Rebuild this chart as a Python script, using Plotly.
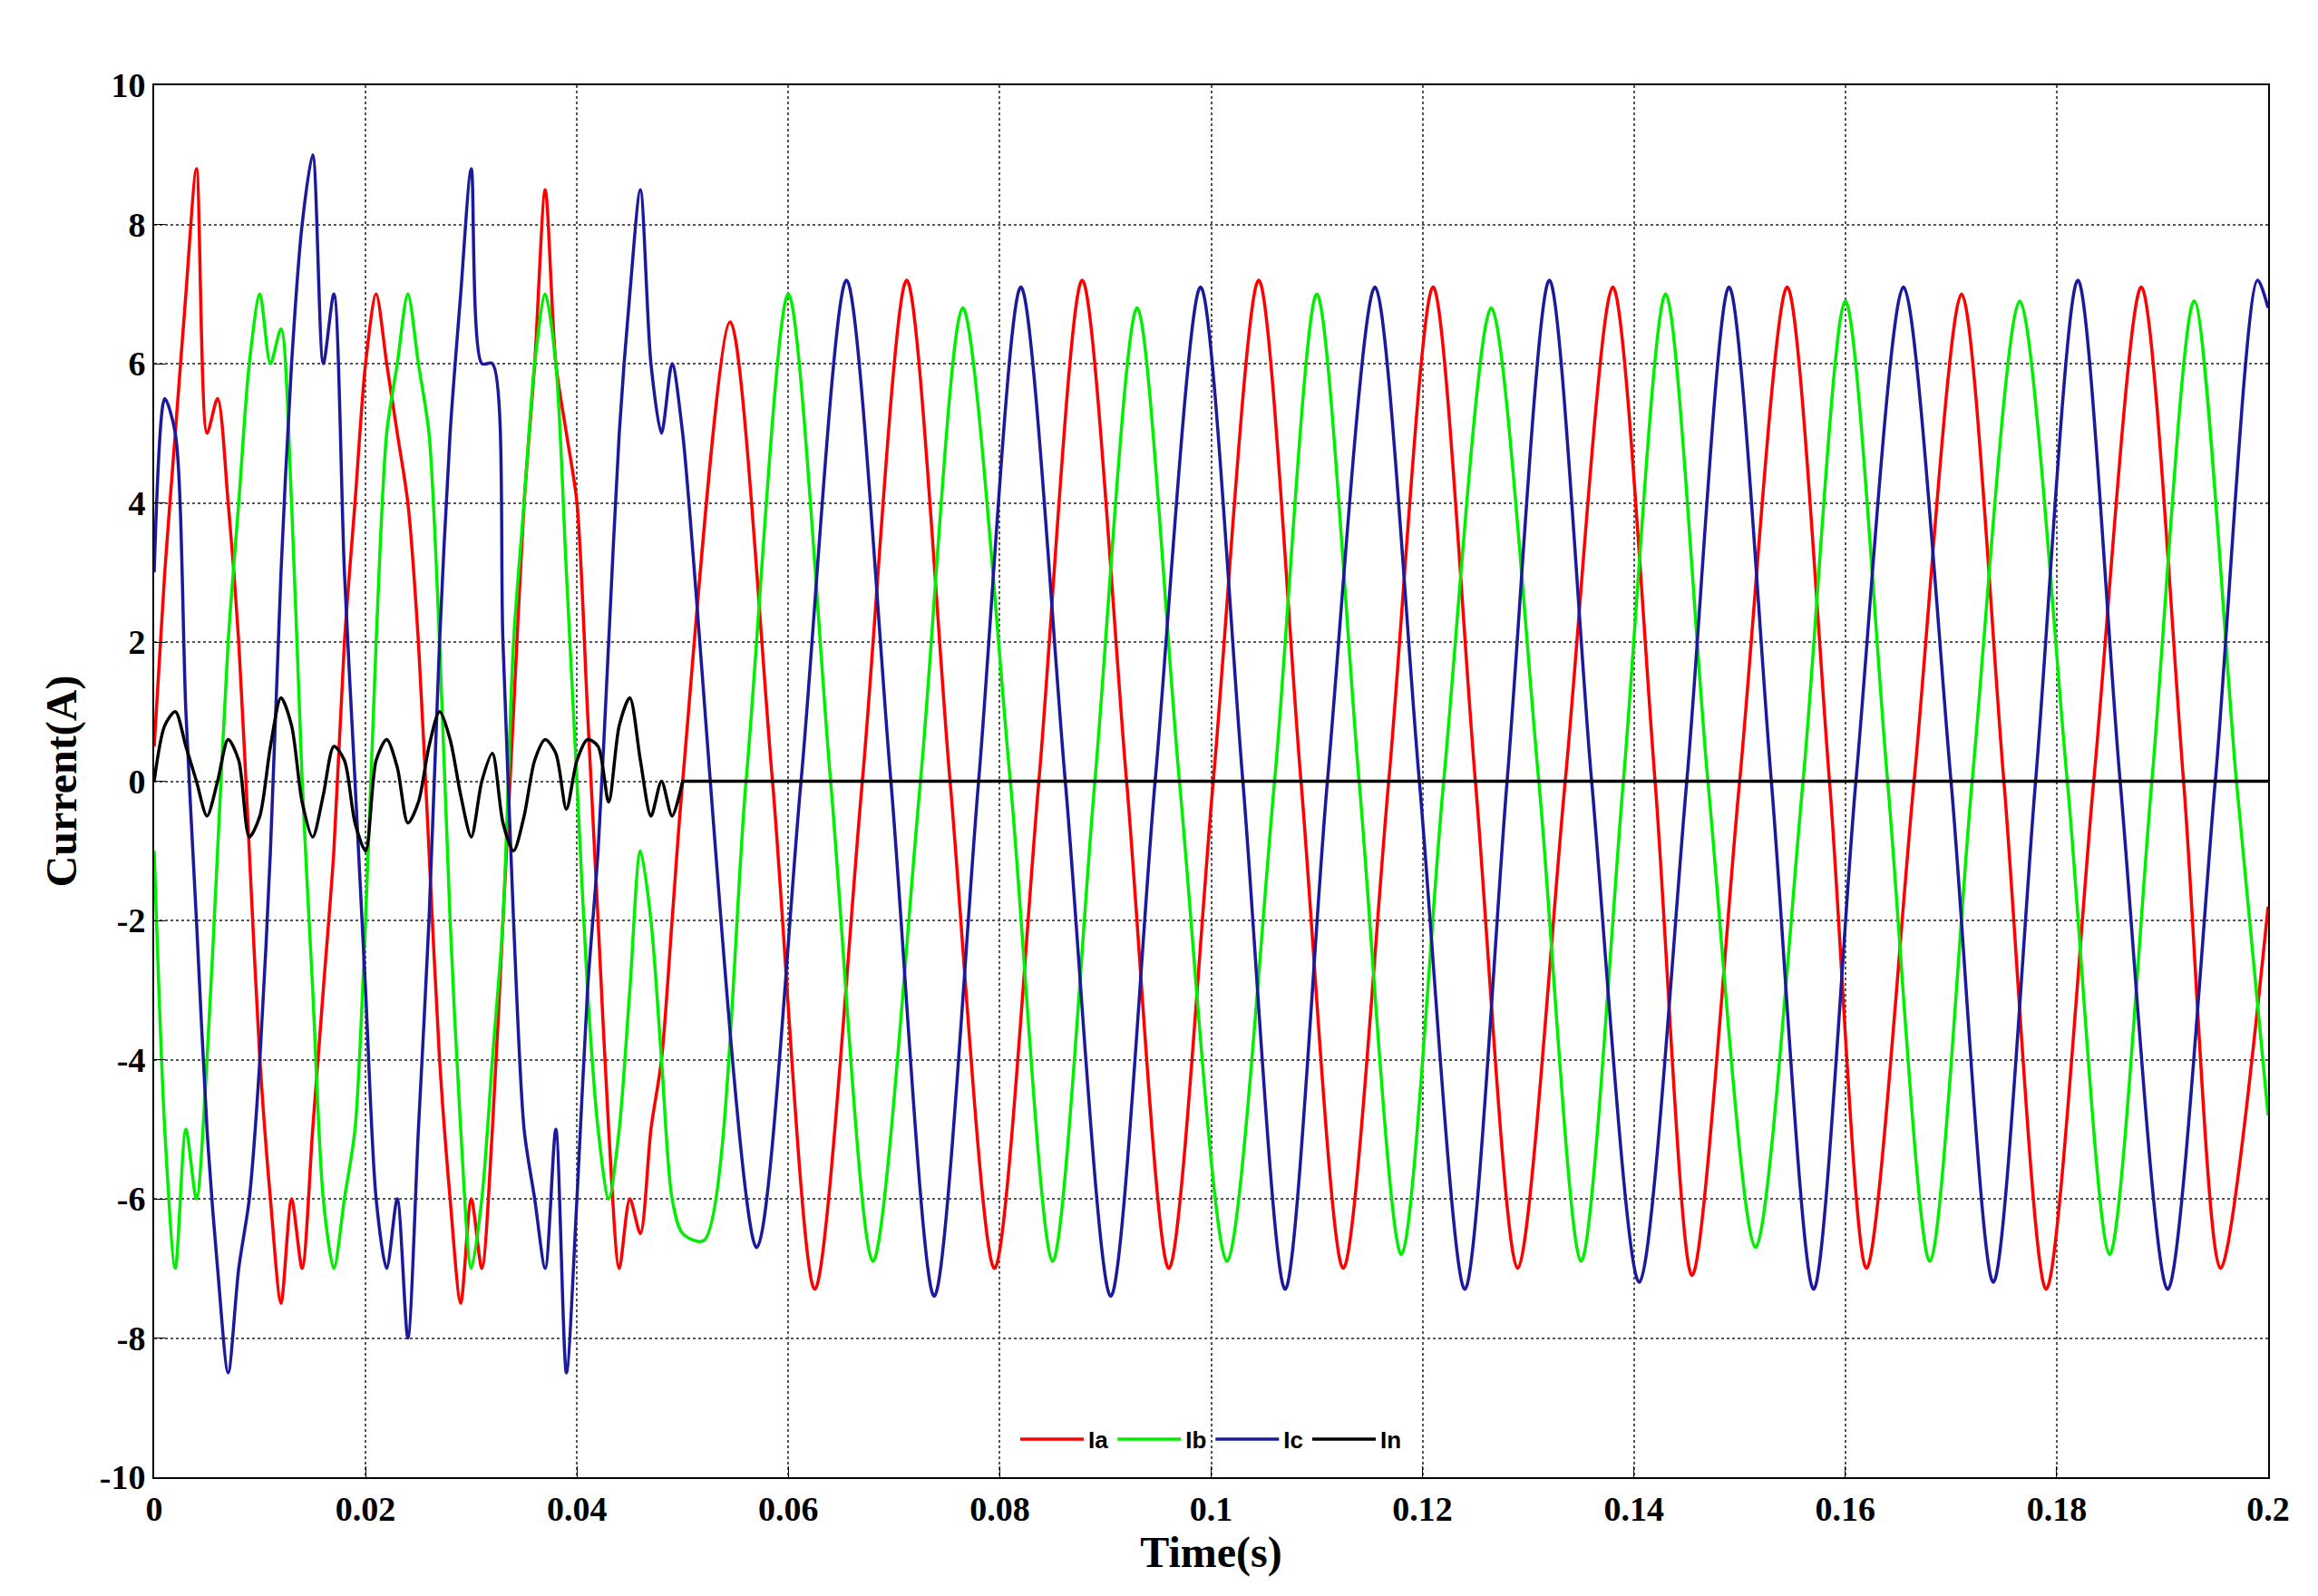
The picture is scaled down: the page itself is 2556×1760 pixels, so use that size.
import plotly.graph_objects as go

# transient part, 1 ms samples from 0 to 0.05 s
t_tr = [i / 1000 for i in range(51)]
ia_tr = [0.5, 3, 5, 7, 8.8, 5, 5.5, 4, 2, -1, -4, -6, -7.5, -6, -7, -5, -3, -1, 2, 4,
         6, 7, 6, 5, 4, 2, -1, -4, -6, -7.5, -6, -7, -5, -2, 1, 4, 6, 8.5, 6, 5,
         4, 1, -2, -5, -7, -6, -6.5, -5, -4, -2, 0]
ib_tr = [-1, -5, -7, -5, -6, -4, -1, 2, 4, 6, 7, 6, 6.5, 4, 0, -3, -6, -7, -6, -5,
         -2, 2, 5, 6, 7, 6, 5, 2, -2, -5, -7, -6, -4, -2, 2, 4, 6, 7, 6, 3,
         0, -3, -5, -6, -5, -3, -1, -2, -4, -6, -6.5]
ic_tr = [3, 5.5, 5, 1, -2, -5, -7, -8.5, -7, -6, -4, -1, 3, 6, 8, 9, 6, 7, 3, 0,
         -3, -6, -7, -6, -8, -5, -2, 2, 5, 7, 8.8, 6, 6, 2, -2, -5, -6, -7, -5, -8.5,
         -6, -3, -1, 2, 5, 7, 8.5, 6, 5, 6, 5]
in_tr = [0, 0.8, 1, 0.5, 0, -0.5, 0, 0.6, 0.3, -0.8, -0.5, 0.5, 1.2, 0.8, -0.3, -0.8, -0.2, 0.5, 0.3, -0.6,
         -1, 0.3, 0.6, 0.2, -0.6, -0.3, 0.5, 1.0, 0.6, -0.2, -0.8, 0, 0.4, -0.6, -1, -0.5, 0.3, 0.6, 0.4, -0.4,
         0.3, 0.6, 0.5, -0.3, 0.8, 1.2, 0.3, -0.5, 0, -0.5, 0]

# steady state: peaks, zero crossings and troughs
t_a = [0.0545, 0.0585, 0.0625, 0.067, 0.0712, 0.0753, 0.0795, 0.0837, 0.0878, 0.092, 0.096, 0.1002,
       0.1045, 0.1085, 0.1125, 0.1168, 0.121, 0.125, 0.129, 0.1335, 0.138, 0.142, 0.1455, 0.15,
       0.1545, 0.1585, 0.162, 0.1665, 0.171, 0.175, 0.179, 0.1835, 0.188, 0.192, 0.1955, 0.2]
ia_ss = [6.6, 0, -7.3, 0, 7.2, 0, -7.0, 0, 7.2, 0, -7.0, 0,
         7.2, 0, -7.0, 0, 7.1, 0, -7.0, 0, 7.1, 0, -7.1, 0,
         7.1, 0, -7.0, 0, 7.0, 0, -7.3, 0, 7.1, 0, -7.0, -1.8]
t_b = [0.052, 0.056, 0.06, 0.064, 0.068, 0.0725, 0.0765, 0.081, 0.085, 0.089, 0.093, 0.097,
       0.1015, 0.106, 0.11, 0.114, 0.118, 0.122, 0.1265, 0.131, 0.135, 0.139, 0.143, 0.147,
       0.1515, 0.156, 0.16, 0.164, 0.168, 0.172, 0.1765, 0.181, 0.185, 0.189, 0.193, 0.197, 0.2]
ib_ss = [-6.6, 0, 7.0, 0, -6.9, 0, 6.8, 0, -6.9, 0, 6.8, 0,
         -6.9, 0, 7.0, 0, -6.8, 0, 6.8, 0, -6.9, 0, 7.0, 0,
         -6.7, 0, 6.9, 0, -6.9, 0, 6.9, 0, -6.8, 0, 6.9, 0, -4.8]
t_c = [0.057, 0.0612, 0.0655, 0.0697, 0.0738, 0.078, 0.082, 0.0862, 0.0905, 0.0947, 0.099, 0.103,
       0.107, 0.111, 0.1155, 0.1197, 0.124, 0.128, 0.132, 0.136, 0.1405, 0.145, 0.149, 0.153,
       0.157, 0.161, 0.1655, 0.17, 0.174, 0.178, 0.182, 0.186, 0.1905, 0.195, 0.199, 0.2]
ic_ss = [-6.7, 0, 7.2, 0, -7.4, 0, 7.1, 0, -7.4, 0, 7.1, 0,
         -7.3, 0, 7.1, 0, -7.3, 0, 7.2, 0, -7.2, 0, 7.1, 0,
         -7.3, 0, 7.1, 0, -7.2, 0, 7.2, 0, -7.3, 0, 7.2, 6.8]
t_n = [0.05, 0.2]
in_ss = [0, 0]

y_ticks = [-10, -8, -6, -4, -2, 0, 2, 4, 6, 8, 10]
x_ticks = [0, 0.02, 0.04, 0.06, 0.08, 0.1, 0.12, 0.14, 0.16, 0.18, 0.2]

series = [
    ('Ia', t_tr + t_a, ia_tr + ia_ss, '#ff0000'),
    ('Ib', t_tr + t_b, ib_tr + ib_ss, '#00ee00'),
    ('Ic', t_tr + t_c, ic_tr + ic_ss, '#1a1a9a'),
    ('In', t_tr + t_n, in_tr + in_ss, '#000000'),
]

fig = go.Figure()
for name, x, y, col in series:
    fig.add_trace(go.Scatter(x=x, y=y, name='<b>' + name + '</b>', mode='lines',
                             line=dict(color=col, width=3.5, shape='spline', smoothing=0.8)))

tickfont = dict(family='Liberation Serif', size=38, color='black')
common = dict(showline=True, mirror=True, linecolor='black', linewidth=2, ticks='inside',
              ticklen=12, tickcolor='black', showgrid=True, gridcolor='#555', griddash='dot',
              gridwidth=1.5, zeroline=False, tickfont=tickfont)
fig.update_layout(
    width=2556, height=1760,
    paper_bgcolor='white', plot_bgcolor='white',
    margin=dict(l=162, r=63, t=86, b=139),
    font=dict(family='Liberation Serif', color='black'),
    legend=dict(orientation='h', x=0.5, xanchor='center', y=0.012, yanchor='bottom',
                font=dict(family='Liberation Sans', size=26, color='black'),
                bgcolor='rgba(0,0,0,0)', itemwidth=70),
)
fig.update_xaxes(range=[0, 0.2], tickvals=x_ticks, ticktext=['<b>%g</b>' % v for v in x_ticks],
                 title=dict(text='<b>Time(s)</b>', font=dict(family='Liberation Serif', size=48, color='black'), standoff=8),
                 **common)
fig.update_yaxes(range=[-10, 10], tickvals=y_ticks, ticktext=['<b>%d</b>' % v for v in y_ticks],
                 title=dict(text='<b>Current(A)</b>', font=dict(family='Liberation Serif', size=48, color='black'), standoff=10),
                 **common)

fig.write_html('out.html')
